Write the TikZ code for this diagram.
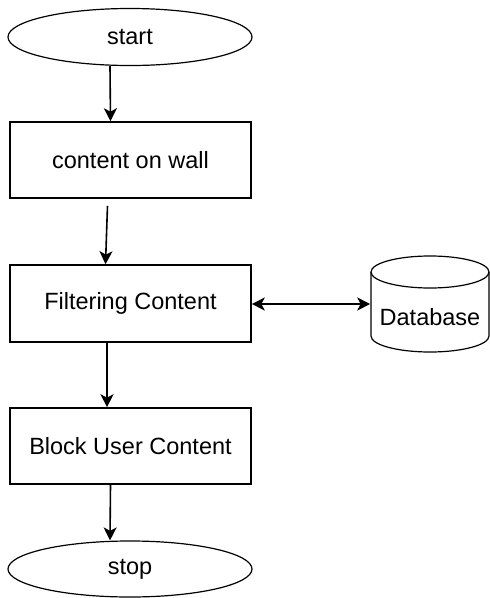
\documentclass[tikz,border=0pt]{standalone}
\usepackage{fontspec}
\setmainfont{Liberation Sans}
\usetikzlibrary{shapes.geometric,arrows.meta}
\begin{document}
\begin{tikzpicture}[x=1pt,y=-1pt,
  line width=1.6pt,
  font=\fontsize{23.5}{27}\selectfont,
  terminal/.style={ellipse,draw,line width=1.2pt,minimum width=244pt,minimum height=57pt,inner sep=0pt},
  stepbox/.style={rectangle,draw,minimum width=241pt,minimum height=76pt,inner sep=0pt},
  arr/.style={-{Stealth[length=13pt,width=13pt,inset=3.5pt]}},
  darr/.style={{Stealth[length=13pt,width=13pt,inset=3.5pt]}-{Stealth[length=13pt,width=13pt,inset=3.5pt]}}]
  \useasboundingbox (0,0) rectangle (490,598);

  % flowchart nodes
  \node[terminal] (start) at (130,37) {start};
  \node[stepbox] (wall) at (130.5,160) {content on wall};
  \node[stepbox,minimum height=77pt] (filter) at (130.5,303.5) {Filtering Content};
  \node[stepbox] (block) at (130.5,446) {Block User Content};
  \node[terminal,minimum height=56pt] (stop) at (130,569) {stop};

  % database cylinder
  \node[minimum width=118pt,minimum height=96pt,inner sep=0pt] (db) at (430,304) {};
  \draw[line width=1.2pt] (430,272) ellipse [x radius=59pt,y radius=16pt];
  \draw[line width=1.2pt] (371,272) -- (371,336)
    arc[start angle=180,end angle=360,x radius=59pt,y radius=16pt] -- (489,272);
  \node (dbtext) at (430,317) {Database};

  % connectors
  \draw[arr] ([xshift=-20pt]start.south) -- ([xshift=-20pt]wall.north);
  \draw[arr] ([xshift=-23pt,yshift=-7pt]wall.south) -- ([xshift=-25pt]filter.north);
  \draw[arr] ([xshift=-23.5pt]filter.south) -- ([xshift=-23.5pt]block.north);
  \draw[arr] ([xshift=-20pt]block.south) -- ([xshift=-20pt]stop.north);
  \draw[darr] (filter.east |- db.west) -- (db.west);
\end{tikzpicture}
\end{document}
